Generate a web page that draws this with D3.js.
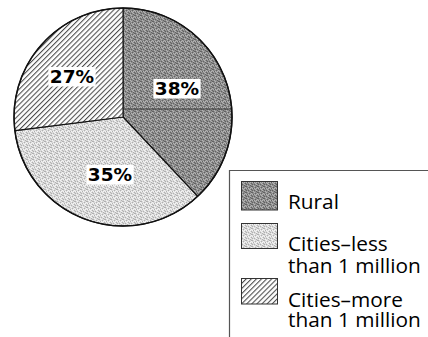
<!DOCTYPE html>
<html>
<head>
<meta charset="utf-8">
<script src="https://cdn.jsdelivr.net/npm/d3@7"></script>
<style>
  html, body { margin: 0; padding: 0; background: #fff; }
  svg { display: block; }
</style>
</head>
<body>
<svg id="chart" width="428" height="337"></svg>
<script>
// Share of population by place of residence
const categories = ["Rural", "Cities–less than 1 million", "Cities–more than 1 million"];
const shares = [38, 35, 27];
const shareLabels = ["38%", "35%", "27%"];
const legendLines = [["Rural"], ["Cities–less", "than 1 million"], ["Cities–more", "than 1 million"]];
const fillIds = ["dots-dark", "dots-light", "hatch"];

const svg = d3.select("#chart");
const defs = svg.append("defs");

// Stippled fills: a small tile of mixed gray pixels
function stipple(id, base, dark, light) {
  const p = defs.append("pattern").attr("id", id)
    .attr("patternUnits", "userSpaceOnUse").attr("width", 6).attr("height", 6);
  p.append("rect").attr("width", 6).attr("height", 6).attr("fill", base);
  const darkPx = [[0,0],[3,1],[1,2],[5,3],[2,4],[4,5],[5,0],[0,4]];
  const lightPx = [[2,0],[5,1],[0,2],[3,3],[1,5],[4,2],[2,2],[4,4]];
  darkPx.forEach(([x, y]) => p.append("rect").attr("x", x).attr("y", y).attr("width", 1).attr("height", 1).attr("fill", dark));
  lightPx.forEach(([x, y]) => p.append("rect").attr("x", x).attr("y", y).attr("width", 1).attr("height", 1).attr("fill", light));
}
stipple("dots-dark", "#8d8d8d", "#626262", "#b4b4b4");
stipple("dots-light", "#dadada", "#b0b0b0", "#f4f4f4");

// Diagonal hatch
const hatch = defs.append("pattern").attr("id", "hatch")
  .attr("patternUnits", "userSpaceOnUse").attr("width", 3.6).attr("height", 3.6)
  .attr("patternTransform", "rotate(45)");
hatch.append("rect").attr("width", 3.6).attr("height", 3.6).attr("fill", "#fff");
hatch.append("line").attr("x1", 0.6).attr("y1", 0).attr("x2", 0.6).attr("y2", 3.6)
  .attr("stroke", "#2a2a2a").attr("stroke-width", 0.9);

// Pie
const cx = 123, cy = 117, r = 109;
const pie = d3.pie().sort(null).value(d => d)(shares);
const arc = d3.arc().innerRadius(0).outerRadius(r);
const g = svg.append("g").attr("transform", `translate(${cx},${cy})`);

g.selectAll("path.slice").data(pie).join("path")
  .attr("class", "slice")
  .attr("d", arc)
  .attr("fill", (d, i) => `url(#${fillIds[i]})`)
  .attr("stroke", "#111").attr("stroke-width", 1.1).attr("stroke-linejoin", "round");

// Rule across the rural wedge
const ruleY = -8;
g.append("line").attr("x1", 0).attr("y1", ruleY)
  .attr("x2", Math.sqrt(r * r - ruleY * ruleY)).attr("y2", ruleY)
  .attr("stroke", "#333").attr("stroke-width", 0.9);

g.append("circle").attr("r", r).attr("fill", "none").attr("stroke", "#111").attr("stroke-width", 1.5);

// Percent labels on white boxes
const labelPos = [[54, -28], [-13, 58], [-51, -40]];
pie.forEach((d, i) => {
  const [lx, ly] = labelPos[i];
  const lg = g.append("g").attr("transform", `translate(${lx},${ly})`);
  const t = lg.append("text")
    .attr("text-anchor", "middle").attr("y", 6)
    .attr("font-family", "'DejaVu Sans', sans-serif").attr("font-weight", "bold")
    .attr("font-size", 18.5).attr("fill", "#000")
    .text(shareLabels[i]);
  const bb = t.node().getBBox();
  lg.insert("rect", "text")
    .attr("x", bb.x - 1.5).attr("y", bb.y + 1).attr("width", bb.width + 3).attr("height", bb.height - 1.5)
    .attr("fill", "#fff");
});

// Legend
svg.append("path")
  .attr("d", "M229.5,337 V170.5 H428")
  .attr("fill", "none").attr("stroke", "#555").attr("stroke-width", 1.2);

const swatches = [[181.5, 28.5], [223.5, 25], [278.5, 25.5]];
const firstBaseline = [208.5, 250.7, 306.5];
const lineStep = [0, 22.3, 20.5];
categories.forEach((c, i) => {
  svg.append("rect")
    .attr("x", 241.5).attr("y", swatches[i][0])
    .attr("width", 36).attr("height", swatches[i][1])
    .attr("fill", `url(#${fillIds[i]})`)
    .attr("stroke", "#333").attr("stroke-width", 1);
  const t = svg.append("text")
    .attr("x", 288).attr("y", firstBaseline[i])
    .attr("font-family", "'Open Sans', sans-serif").attr("font-size", 20.8)
    .attr("fill", "#000");
  legendLines[i].forEach((line, j) => {
    t.append("tspan")
      .attr("x", 288)
      .attr("dy", j === 0 ? 0 : lineStep[i])
      .text(line);
  });
});
</script>
</body>
</html>
